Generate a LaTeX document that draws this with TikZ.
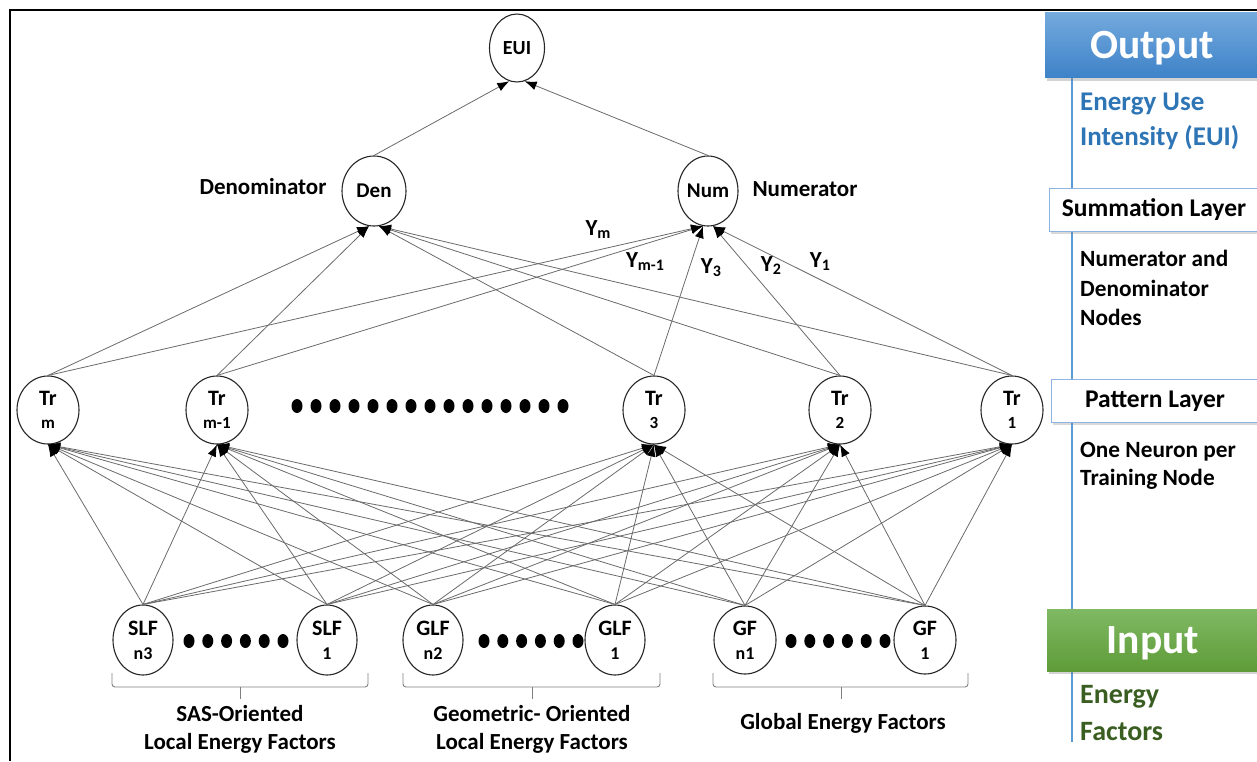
\documentclass[tikz,border=0pt]{standalone}
\usepackage{fontspec}
\setmainfont{Carlito}
\usetikzlibrary{shapes.geometric,arrows.meta,shadows}

\definecolor{linkgray}{HTML}{6A6A6A}
\definecolor{panelblue}{HTML}{5B9BD5}
\definecolor{textblue}{HTML}{2E75B6}
\definecolor{textgreen}{HTML}{3A5E22}
\definecolor{outtop}{HTML}{74AADD}
\definecolor{outbot}{HTML}{3E82C8}
\definecolor{intop}{HTML}{80B964}
\definecolor{inbot}{HTML}{5E9C38}
\definecolor{boxedge}{HTML}{8DB3E2}
\definecolor{bracegray}{HTML}{7F7F7F}

\newcommand\fs[2]{\fontsize{#1}{#2}\selectfont\bfseries}

\begin{document}
\begin{tikzpicture}[x=1pt,y=-1pt,
  neuron/.style={ellipse, draw=black!85, line width=1.1pt, fill=white, inner sep=0pt,
    minimum width=62pt, minimum height=68pt, align=center, font=\fs{22}{25}},
  link/.style={draw=linkgray, line width=0.8pt, -{Latex[length=12pt,width=9pt,color=black]}},
  txt/.style={font=\fs{23}{28}, inner sep=0pt},
  sidetxt/.style={font=\fs{23.3}{27}, inner sep=0pt, anchor=base west},
  layerbox/.style={rectangle, draw=boxedge, line width=1pt, fill=white, inner sep=0pt,
    minimum width=210pt, minimum height=43pt, font=\fs{25.5}{30},
    drop shadow={opacity=0.3, shadow xshift=1.5pt, shadow yshift=-2.5pt}},
  headbox/.style={rectangle, draw=none, inner sep=0pt, text=white, font=\fs{41.5}{48},
    text height=27pt, text depth=0pt,
    drop shadow={opacity=0.35, shadow xshift=1.5pt, shadow yshift=-3pt}},
  bracket/.style={draw=bracegray, line width=0.9pt, rounded corners=3pt}
]
\useasboundingbox (0,0) rectangle (1257,761);

% frame
\draw[black, line width=1.2pt] (10,761) -- (10,10) -- (1257,10);

% output and summation neurons
\node[neuron, minimum width=55pt, minimum height=68pt, font=\fs{20}{24}] (eui) at (517,48) {EUI};
\node[neuron, minimum width=64pt, minimum height=70pt, font=\fs{21}{24}] (den) at (374,191) {Den};
\node[neuron, minimum width=60pt, minimum height=70pt, font=\fs{21}{24}] (num) at (708,191) {Num};

% pattern layer
\node[neuron] (trm)  at (48,410)   {Tr\\[-2pt]\fs{17}{19}m};
\node[neuron] (trmm) at (217,410)  {Tr\\[-2pt]\fs{17}{19}m-1};
\node[neuron] (tr3)  at (654,410)  {Tr\\[-2pt]\fs{17}{19}3};
\node[neuron] (tr2)  at (840,410)  {Tr\\[-2pt]\fs{17}{19}2};
\node[neuron] (tr1)  at (1012,410) {Tr\\[-2pt]\fs{17}{19}1};

% input layer
\node[neuron, minimum width=60pt, minimum height=70pt] (slfn) at (143,640) {SLF\\[-1pt]\fs{18}{20}n3};
\node[neuron, minimum width=60pt, minimum height=70pt] (slfa) at (327,640) {SLF\\[-1pt]\fs{18}{20}1};
\node[neuron, minimum width=60pt, minimum height=70pt] (glfn) at (433,640) {GLF\\[-1pt]\fs{18}{20}n2};
\node[neuron, minimum width=60pt, minimum height=70pt] (glfa) at (615,640) {GLF\\[-1pt]\fs{18}{20}1};
\node[neuron, minimum width=62pt, minimum height=68pt] (gfn)  at (745,640) {GF\\[-1pt]\fs{18}{20}n1};
\node[neuron, minimum width=62pt, minimum height=68pt] (gfa)  at (925,640) {GF\\[-1pt]\fs{18}{20}1};

% input -> pattern connections
\foreach \t in {trm,trmm,tr3,tr2,tr1}{
  \foreach \s in {slfn,slfa,glfn,glfa,gfn,gfa}{
    \draw[link] (\s.north) -- (\t.south);
  }
}

% pattern -> summation connections
\foreach \s in {trm,trmm}{\draw[link] (\s.north) -- (den.262);}
\foreach \s in {tr3,tr2,tr1}{\draw[link] (\s.north) -- (den.278);}
\foreach \s in {trm,trmm,tr3}{\draw[link] (\s.north) -- (num.262);}
\foreach \s in {tr2,tr1}{\draw[link] (\s.north) -- (num.278);}

% summation -> output
\draw[link] (den.north) -- (eui.257);
\draw[link] (num.north) -- (eui.283);

% weights
\node[txt] (gm)  at (598,230) {Y\raisebox{-3pt}{\fs{16}{18}m}};
\node[txt] (gm1) at (645,262) {Y\raisebox{-3pt}{\fs{16}{18}m-1}};
\node[txt] (g3)  at (711,268) {Y\raisebox{-3pt}{\fs{16}{18}3}};
\node[txt] (g2)  at (771,266) {Y\raisebox{-3pt}{\fs{16}{18}2}};
\node[txt] (g1)  at (820,262) {Y\raisebox{-3pt}{\fs{16}{18}1}};

% layer captions
\node[txt, anchor=base] (denlbl) at (263,194) {Denominator};
\node[txt, anchor=base] (numlbl) at (805,196) {Numerator};

% ellipsis dots
\foreach \i in {0,...,14} \fill (297+19*\i,406) ellipse [x radius=5.5pt, y radius=7pt];
\foreach \i in {0,...,5} {
  \fill (189+18.8*\i,641) ellipse [x radius=5.5pt, y radius=7pt];
  \fill (484+18.8*\i,641) ellipse [x radius=5.5pt, y radius=7pt];
  \fill (791+18.8*\i,641) ellipse [x radius=5.5pt, y radius=7pt];
}

% group brackets
\draw[bracket] (112,673) -- (112,687) -- (368,687) -- (368,673);
\draw[bracket] (240,687) -- (240,699);
\draw[bracket] (403,673) -- (403,687) -- (660,687) -- (660,673);
\draw[bracket] (532,687) -- (532,699);
\draw[bracket] (713,673) -- (713,687) -- (968,687) -- (968,673);
\draw[bracket] (841,687) -- (841,699);

\node[txt, anchor=base] (sas1) at (240,721) {SAS-Oriented};
\node[txt, anchor=base] (sas2) at (240,749) {Local Energy Factors};
\node[txt, anchor=base] (geo1) at (532,721) {Geometric- Oriented};
\node[txt, anchor=base] (geo2) at (532,749) {Local Energy Factors};
\node[txt, anchor=base] (glob) at (843,729) {Global Energy Factors};

% side legend
\draw[panelblue, line width=1.2pt] (1072,70) -- (1072,742);

\node[headbox, minimum width=214pt, minimum height=65pt, top color=outtop, bottom color=outbot] (outb) at (1152,45) {Output};
\node[sidetxt, text=textblue, font=\fs{27}{32}] (eu1) at (1080,110) {Energy Use};
\node[sidetxt, text=textblue, font=\fs{27}{32}] (eu2) at (1080,145) {Intensity (EUI)};

\node[layerbox] (sumb) at (1154,210) {Summation Layer};
\node[sidetxt] (nd1) at (1080,266) {Numerator and};
\node[sidetxt] (nd2) at (1080,296) {Denominator};
\node[sidetxt] (nd3) at (1080,325) {Nodes};

\node[layerbox, minimum width=208pt] (patb) at (1155,401) {Pattern Layer};
\node[sidetxt] (on1) at (1080,457) {One Neuron per};
\node[sidetxt] (on2) at (1080,485) {Training Node};

\node[headbox, minimum width=212pt, minimum height=62pt, top color=intop, bottom color=inbot] (inb) at (1153,640) {Input};
\node[sidetxt, text=textgreen, font=\fs{28}{33}] (ef1) at (1080,703) {Energy};
\node[sidetxt, text=textgreen, font=\fs{28}{33}] (ef2) at (1080,740) {Factors};
\end{tikzpicture}
\end{document}
